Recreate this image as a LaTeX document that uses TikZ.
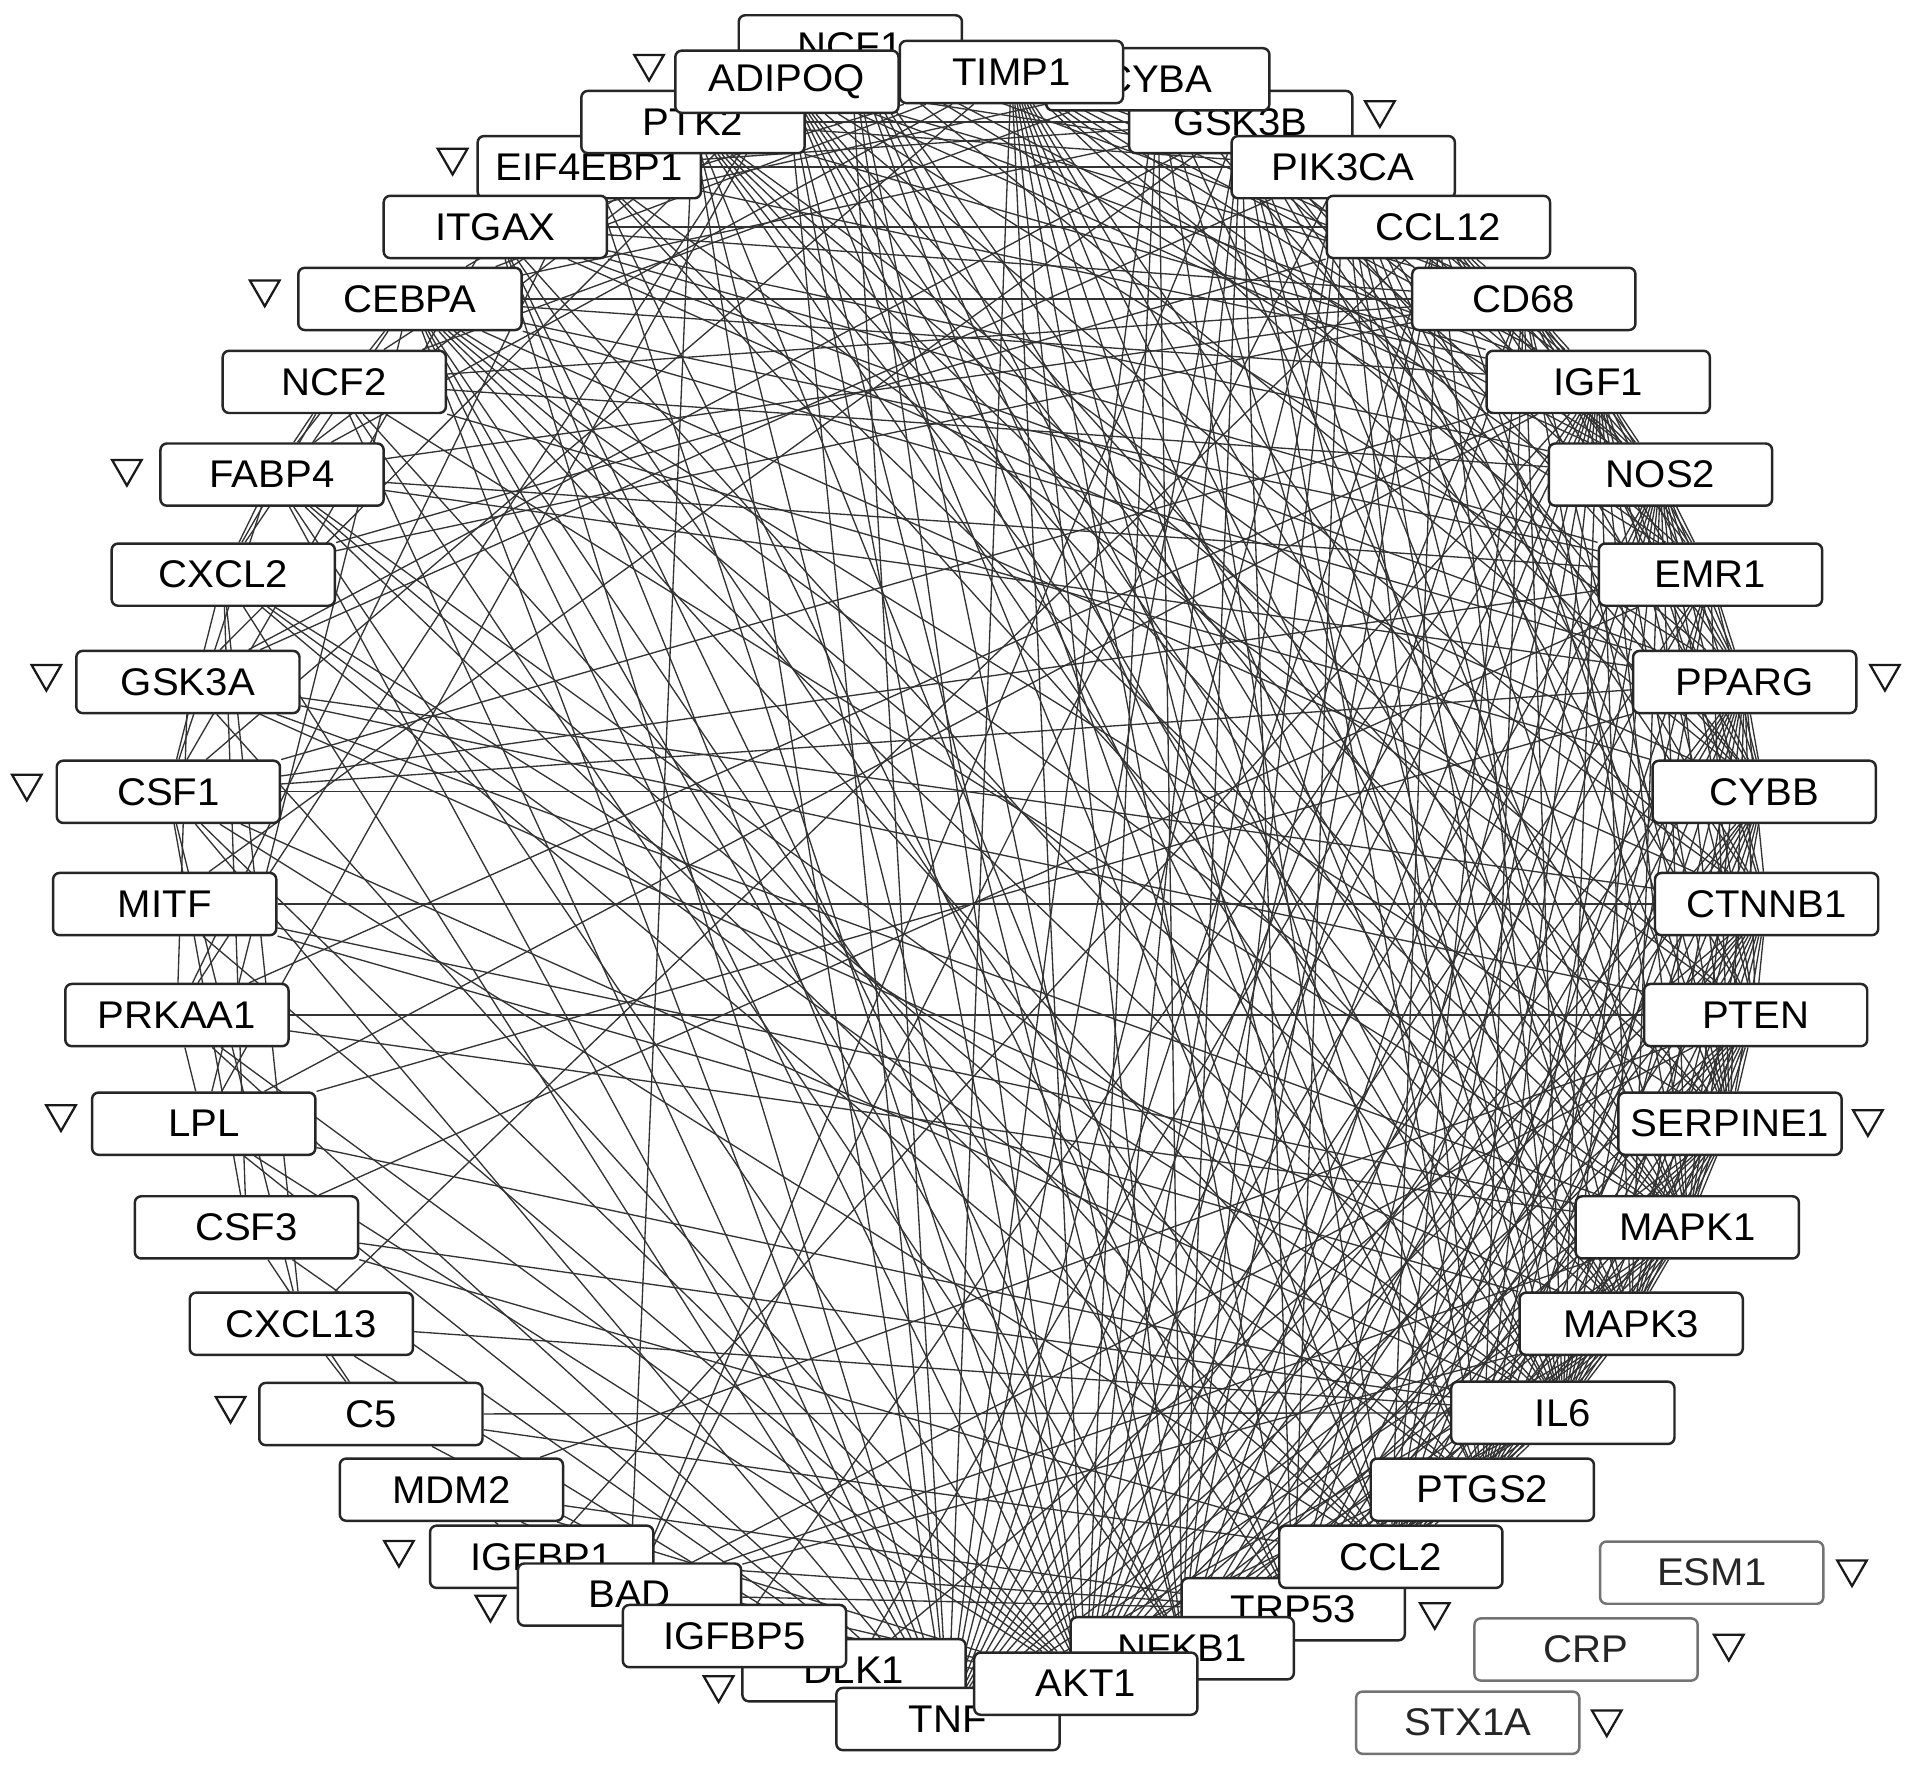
\documentclass[tikz,border=0pt]{standalone}
\usepackage{fontspec}
\newfontfamily\genefont{Liberation Sans}[FakeStretch=1.04]
\usetikzlibrary{shapes.geometric,backgrounds}
\begin{document}
\begin{tikzpicture}[x=0.02cm,y=-0.02cm,
  gene/.style={draw=black!85,line width=1.15pt,rounded corners=3pt,fill=white,
    minimum width=3.66cm,minimum height=1.02cm,inner sep=0pt,text=black,
    font=\genefont\fontsize{18pt}{21pt}\selectfont},
  iso/.style={gene,draw=black!55,text=black!85},
  tri/.style={draw=black!90,line width=1.05pt,regular polygon,regular polygon sides=3,
    shape border rotate=180,minimum size=0.56cm,inner sep=0pt},
  edge/.style={draw=black!80,line width=0.62pt}]
\useasboundingbox (0,0) rectangle (1568,1448);
% nodes (drawing order gives the overlaps)
\node[gene] (NCF1) at (697,38) {NCF1};
\node[gene] (GSK3B) at (1017,100) {GSK3B};
\node[gene] (CYBA) at (949,65) {CYBA};
\node[gene] (TIMP1) at (829,59) {TIMP1};
\node[gene] (EIF4EBP1) at (483,137) {EIF4EBP1};
\node[gene] (PTK2) at (568,100) {PTK2};
\node[gene] (ADIPOQ) at (645,67) {ADIPOQ};
\node[gene] (ITGAX) at (406,186) {ITGAX};
\node[gene] (PIK3CA) at (1101,137) {PIK3CA};
\node[gene] (CCL12) at (1179,186) {CCL12};
\node[gene] (CEBPA) at (336,245) {CEBPA};
\node[gene] (CD68) at (1249,245) {CD68};
\node[gene] (NCF2) at (274,313) {NCF2};
\node[gene] (IGF1) at (1310,313) {IGF1};
\node[gene] (FABP4) at (223,389) {FABP4};
\node[gene] (NOS2) at (1361,389) {NOS2};
\node[gene] (CXCL2) at (183,471) {CXCL2};
\node[gene] (EMR1) at (1402,471) {EMR1};
\node[gene] (GSK3A) at (154,559) {GSK3A};
\node[gene] (PPARG) at (1430,559) {PPARG};
\node[gene] (CSF1) at (138,649) {CSF1};
\node[gene] (CYBB) at (1446,649) {CYBB};
\node[gene] (MITF) at (135,741) {MITF};
\node[gene] (CTNNB1) at (1448,741) {CTNNB1};
\node[gene] (PRKAA1) at (145,832) {PRKAA1};
\node[gene] (PTEN) at (1439,832) {PTEN};
\node[gene] (LPL) at (167,921) {LPL};
\node[gene] (SERPINE1) at (1418,921) {SERPINE1};
\node[gene] (CSF3) at (202,1006) {CSF3};
\node[gene] (MAPK1) at (1383,1006) {MAPK1};
\node[gene] (CXCL13) at (247,1085) {CXCL13};
\node[gene] (MAPK3) at (1337,1085) {MAPK3};
\node[gene] (C5) at (304,1159) {C5};
\node[gene] (IL6) at (1281,1158) {IL6};
\node[gene] (MDM2) at (370,1221) {MDM2};
\node[gene] (PTGS2) at (1215,1221) {PTGS2};
\node[gene] (TRP53) at (1060,1319) {TRP53};
\node[gene] (NFKB1) at (969,1351) {NFKB1};
\node[gene] (CCL2) at (1140,1276) {CCL2};
\node[gene] (IGFBP1) at (444,1276) {IGFBP1};
\node[gene] (BAD) at (516,1307) {BAD};
\node[gene] (DLK1) at (700,1369) {DLK1};
\node[gene] (IGFBP5) at (602,1341) {IGFBP5};
\node[gene] (TNF) at (777,1409) {TNF};
\node[gene] (AKT1) at (890,1380) {AKT1};
\node[iso] (ESM1) at (1403,1289) {ESM1};
\node[iso] (CRP) at (1300,1352) {CRP};
\node[iso] (STX1A) at (1203,1412) {STX1A};
% down-regulation markers
\foreach \n/\x/\y in {t1/532/52,t2/1131/90,t3/371/129,t4/217/237,t5/104/384,
  t6/38/552,t7/22/642,t8/1545/552,t9/1531/917,t10/50/913,t11/189/1152,
  t12/327/1270,t13/402/1315,t14/589/1381,t15/1176/1321,t16/1518/1286,
  t17/1417/1347,t18/1317/1409}
  \node[tri] (\n) at (\x,\y) {};
\begin{pgfonlayer}{background}
\fill[white] (0,0) rectangle (1568,1448);
\foreach \a/\b in {
 AKT1/TNF,AKT1/IL6,AKT1/TRP53,AKT1/NFKB1,AKT1/MAPK1,AKT1/MAPK3,AKT1/PTEN,AKT1/CTNNB1,
 AKT1/PPARG,AKT1/PTGS2,AKT1/SERPINE1,AKT1/IGF1,AKT1/NOS2,AKT1/PIK3CA,AKT1/GSK3B,
 AKT1/GSK3A,AKT1/EIF4EBP1,AKT1/PTK2,AKT1/ADIPOQ,AKT1/MDM2,AKT1/BAD,AKT1/PRKAA1,
 AKT1/CEBPA,AKT1/TIMP1,AKT1/CCL2,AKT1/MITF,AKT1/CSF1,AKT1/IGFBP1,AKT1/IGFBP5,
 AKT1/FABP4,AKT1/CYBB,AKT1/CYBA,AKT1/LPL,AKT1/CD68,AKT1/EMR1,AKT1/NCF1,AKT1/CCL12,AKT1/ITGAX,
 TNF/IL6,TNF/CCL2,TNF/PTGS2,TNF/NFKB1,TNF/TRP53,TNF/MAPK1,TNF/MAPK3,TNF/CTNNB1,TNF/PTEN,
 TNF/PPARG,TNF/SERPINE1,TNF/IGF1,TNF/NOS2,TNF/CD68,TNF/EMR1,TNF/CCL12,TNF/CYBB,TNF/CYBA,
 TNF/NCF1,TNF/NCF2,TNF/TIMP1,TNF/ADIPOQ,TNF/ITGAX,TNF/CEBPA,TNF/FABP4,TNF/CXCL2,TNF/CSF1,
 TNF/CSF3,TNF/LPL,TNF/C5,TNF/CXCL13,TNF/MDM2,TNF/BAD,TNF/GSK3B,TNF/PIK3CA,TNF/PTK2,
 TNF/PRKAA1,TNF/IGFBP1,TNF/DLK1}
 \draw[edge] (\a) -- (\b);
\foreach \a/\b in {
 IL6/CCL2,IL6/PTGS2,IL6/NFKB1,IL6/TRP53,IL6/MAPK1,IL6/MAPK3,IL6/CTNNB1,IL6/PTEN,IL6/PPARG,
 IL6/SERPINE1,IL6/IGF1,IL6/NOS2,IL6/CD68,IL6/EMR1,IL6/CCL12,IL6/CYBB,IL6/TIMP1,IL6/ADIPOQ,
 IL6/CEBPA,IL6/FABP4,IL6/CXCL2,IL6/CSF1,IL6/CSF3,IL6/LPL,IL6/CXCL13,IL6/GSK3B,IL6/PIK3CA,
 IL6/PTK2,IL6/ITGAX,IL6/NCF1,IL6/CYBA,IL6/C5,
 CCL2/PTGS2,CCL2/NFKB1,CCL2/TRP53,CCL2/MAPK1,CCL2/MAPK3,CCL2/PPARG,CCL2/SERPINE1,CCL2/IGF1,
 CCL2/NOS2,CCL2/CD68,CCL2/EMR1,CCL2/CCL12,CCL2/CYBB,CCL2/TIMP1,CCL2/ADIPOQ,CCL2/ITGAX,
 CCL2/CSF1,CCL2/CXCL2,CCL2/CSF3,CCL2/C5,CCL2/FABP4,CCL2/NCF1,CCL2/NCF2,CCL2/CYBA,CCL2/CTNNB1,CCL2/PTEN,
 PTGS2/NFKB1,PTGS2/TRP53,PTGS2/MAPK1,PTGS2/MAPK3,PTGS2/CTNNB1,PTGS2/PTEN,PTGS2/PPARG,
 PTGS2/SERPINE1,PTGS2/IGF1,PTGS2/NOS2,PTGS2/CD68,PTGS2/EMR1,PTGS2/CYBB,PTGS2/TIMP1,
 PTGS2/ADIPOQ,PTGS2/CEBPA,PTGS2/CXCL2,PTGS2/PIK3CA,PTGS2/GSK3B,PTGS2/NCF1,PTGS2/FABP4}
 \draw[edge] (\a) -- (\b);
\foreach \a/\b in {
 TRP53/NFKB1,TRP53/MAPK1,TRP53/MAPK3,TRP53/CTNNB1,TRP53/PTEN,TRP53/PPARG,TRP53/SERPINE1,
 TRP53/IGF1,TRP53/NOS2,TRP53/MDM2,TRP53/BAD,TRP53/GSK3B,TRP53/PIK3CA,TRP53/PTK2,
 TRP53/EIF4EBP1,TRP53/TIMP1,TRP53/CEBPA,TRP53/IGFBP1,TRP53/CYBB,
 NFKB1/MAPK1,NFKB1/MAPK3,NFKB1/CTNNB1,NFKB1/PTEN,NFKB1/PPARG,NFKB1/SERPINE1,NFKB1/NOS2,
 NFKB1/IGF1,NFKB1/CCL12,NFKB1/CYBB,NFKB1/CYBA,NFKB1/NCF1,NFKB1/NCF2,NFKB1/TIMP1,
 NFKB1/GSK3B,NFKB1/PIK3CA,NFKB1/CEBPA,NFKB1/ADIPOQ,NFKB1/ITGAX,
 MAPK1/MAPK3,MAPK1/CTNNB1,MAPK1/PTEN,MAPK1/PPARG,MAPK1/SERPINE1,MAPK1/IGF1,MAPK1/NOS2,
 MAPK1/GSK3B,MAPK1/PIK3CA,MAPK1/PTK2,MAPK1/EIF4EBP1,MAPK1/CYBB,MAPK1/CYBA,MAPK1/NCF1,
 MAPK1/NCF2,MAPK1/TIMP1,MAPK1/BAD,MAPK1/GSK3A,MAPK1/PRKAA1,MAPK1/CEBPA,MAPK1/ADIPOQ,
 MAPK1/MITF,MAPK1/CD68,
 MAPK3/CTNNB1,MAPK3/PTEN,MAPK3/PPARG,MAPK3/SERPINE1,MAPK3/IGF1,MAPK3/NOS2,MAPK3/GSK3B,
 MAPK3/PIK3CA,MAPK3/PTK2,MAPK3/EIF4EBP1,MAPK3/CYBB,MAPK3/NCF1,MAPK3/TIMP1,MAPK3/BAD,
 MAPK3/GSK3A,MAPK3/CEBPA,MAPK3/ADIPOQ,MAPK3/MITF}
 \draw[edge] (\a) -- (\b);
\foreach \a/\b in {
 CTNNB1/PTEN,CTNNB1/PPARG,CTNNB1/SERPINE1,CTNNB1/IGF1,CTNNB1/GSK3B,CTNNB1/PIK3CA,
 CTNNB1/PTK2,CTNNB1/MITF,CTNNB1/CEBPA,CTNNB1/GSK3A,CTNNB1/ADIPOQ,CTNNB1/NOS2,CTNNB1/DLK1,
 PTEN/PPARG,PTEN/SERPINE1,PTEN/IGF1,PTEN/GSK3B,PTEN/PIK3CA,PTEN/PTK2,PTEN/PRKAA1,
 PTEN/EIF4EBP1,PTEN/BAD,PTEN/GSK3A,PTEN/MDM2,PTEN/NOS2,
 PPARG/SERPINE1,PPARG/IGF1,PPARG/NOS2,PPARG/CD68,PPARG/EMR1,PPARG/ADIPOQ,PPARG/CEBPA,
 PPARG/FABP4,PPARG/LPL,PPARG/CYBB,PPARG/TIMP1,PPARG/GSK3B,PPARG/CCL12,PPARG/ITGAX,PPARG/CSF1,
 SERPINE1/IGF1,SERPINE1/NOS2,SERPINE1/TIMP1,SERPINE1/ADIPOQ,SERPINE1/CD68,SERPINE1/PTK2,
 SERPINE1/CCL12,SERPINE1/CEBPA,SERPINE1/PIK3CA,SERPINE1/EMR1,
 CYBB/NOS2,CYBB/CD68,CYBB/EMR1,CYBB/CYBA,CYBB/NCF1,CYBB/NCF2,CYBB/ITGAX,CYBB/CCL12,
 CYBB/CSF1,CYBB/GSK3B,CYBB/TIMP1,
 EMR1/NOS2,EMR1/CD68,EMR1/IGF1,EMR1/CCL12,EMR1/ITGAX,EMR1/CSF1,EMR1/CYBA,EMR1/TIMP1,
 EMR1/NCF1,EMR1/CEBPA,EMR1/CSF3,EMR1/FABP4}
 \draw[edge] (\a) -- (\b);
\foreach \a/\b in {
 NOS2/IGF1,NOS2/CD68,NOS2/CCL12,NOS2/CYBA,NOS2/NCF1,NOS2/NCF2,NOS2/TIMP1,NOS2/ITGAX,
 NOS2/ADIPOQ,NOS2/PIK3CA,NOS2/GSK3B,
 IGF1/CD68,IGF1/CCL12,IGF1/PIK3CA,IGF1/GSK3B,IGF1/TIMP1,IGF1/ADIPOQ,IGF1/PTK2,
 IGF1/EIF4EBP1,IGF1/IGFBP1,IGF1/IGFBP5,IGF1/CEBPA,IGF1/LPL,IGF1/PRKAA1,IGF1/CSF1,IGF1/DLK1,
 CD68/CCL12,CD68/CYBA,CD68/NCF1,CD68/TIMP1,CD68/ITGAX,CD68/CXCL2,CD68/FABP4,CD68/NCF2,
 CD68/CEBPA,CD68/ADIPOQ,
 CCL12/ITGAX,CCL12/CYBA,CCL12/TIMP1,CCL12/CXCL2,CCL12/CXCL13,
 PIK3CA/GSK3B,PIK3CA/TIMP1,PIK3CA/PTK2,PIK3CA/EIF4EBP1,PIK3CA/ADIPOQ,PIK3CA/BAD,PIK3CA/GSK3A,
 GSK3B/PTK2,GSK3B/EIF4EBP1,GSK3B/GSK3A,GSK3B/MITF,GSK3B/CEBPA,GSK3B/BAD,
 CYBA/NCF1,CYBA/NCF2,CYBA/TIMP1,CYBA/ITGAX,
 TIMP1/ADIPOQ,TIMP1/PTK2,TIMP1/ITGAX,TIMP1/CEBPA,TIMP1/CSF1,TIMP1/FABP4,
 NCF1/NCF2,NCF1/ITGAX,
 ADIPOQ/PTK2,ADIPOQ/EIF4EBP1,ADIPOQ/CEBPA,ADIPOQ/FABP4,ADIPOQ/LPL,ADIPOQ/PRKAA1,ADIPOQ/GSK3A,
 PTK2/EIF4EBP1,PTK2/ITGAX,PTK2/BAD,EIF4EBP1/PRKAA1,
 CEBPA/FABP4,CEBPA/LPL,CEBPA/CXCL2,NCF2/FABP4,NCF2/CXCL2,FABP4/CXCL2,FABP4/CSF1,
 CXCL2/CSF1,CXCL2/CSF3,CXCL2/CXCL13,GSK3A/PRKAA1,CSF1/CSF3,CSF1/CXCL13,PRKAA1/LPL,
 CSF3/C5,CXCL13/C5,ITGAX/CSF1,IGFBP1/IGFBP5,MDM2/IGFBP1}
 \draw[edge] (\a) -- (\b);
\end{pgfonlayer}
\end{tikzpicture}
\end{document}
